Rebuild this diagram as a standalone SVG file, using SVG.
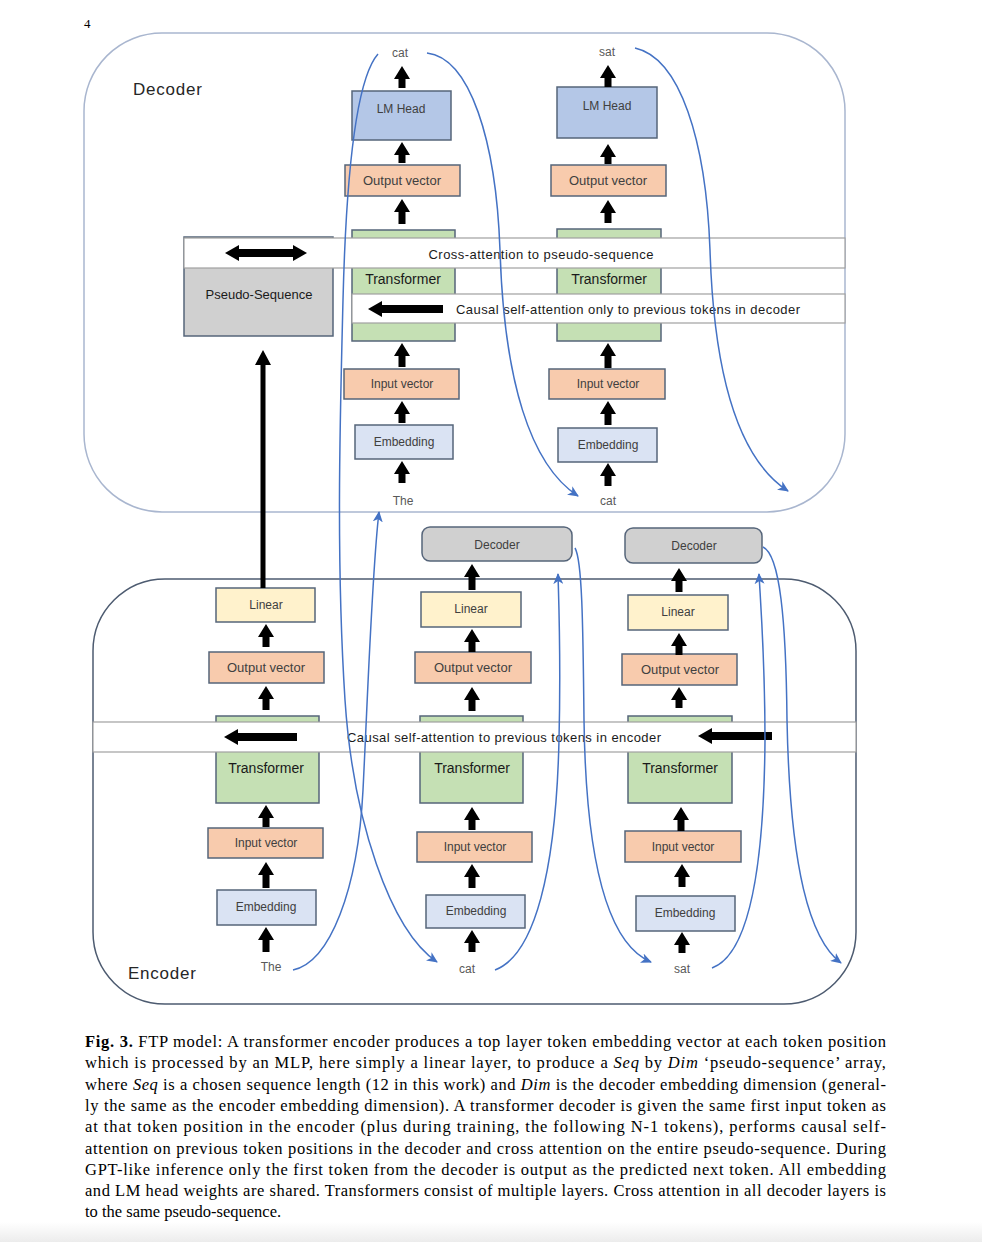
<svg xmlns="http://www.w3.org/2000/svg" width="982" height="1242" viewBox="0 0 982 1242">
<style>
.lbl{font-family:"Liberation Sans",Arial,sans-serif;font-size:12px;fill:#404040;text-anchor:middle}
.ov{font-size:13px}
.tr{font-family:"Liberation Sans",Arial,sans-serif;font-size:14px;fill:#1a1a1a;text-anchor:middle}
.tok{font-family:"Liberation Sans",Arial,sans-serif;font-size:12px;fill:#595959;text-anchor:middle}
.band{fill:#ffffff;stroke:#a0a0a0;stroke-width:1.2}
.bt{font-family:"Liberation Sans",Arial,sans-serif;font-size:13px;fill:#1a1a1a}
.big{font-family:"Liberation Sans",Arial,sans-serif;font-size:17px;fill:#262626}
.box{stroke:#56657a;stroke-width:1.5}
.lm{fill:#b4c7e7}.vec{fill:#f8cbad}.grn{fill:#c5e0b4}.emb{fill:#dae3f3}.lin{fill:#fff2cc}.gry{fill:#d0d0d0}
.ar{fill:#000000}
.cv{fill:none;stroke:#4472c4;stroke-width:1.5;marker-end:url(#ba)}
.cap{font-family:"Liberation Serif","Times New Roman",serif;font-size:16.5px;fill:#000000}
</style>
<defs>
<marker id="ba" markerWidth="12" markerHeight="10" refX="10" refY="5" orient="auto" markerUnits="userSpaceOnUse"><path d="M0,0 L11,5 L0,10 L3,5 z" fill="#4472c4"/></marker>
<linearGradient id="pg" x1="0" y1="0" x2="0" y2="1"><stop offset="0" stop-color="#ffffff"/><stop offset="1" stop-color="#ececec"/></linearGradient>
</defs>
<rect x="0" y="0" width="982" height="1242" fill="#ffffff"/>
<rect x="0" y="1222" width="982" height="20" fill="url(#pg)"/>
<text x="84" y="28" font-family="Liberation Serif,serif" font-size="13" fill="#000">4</text>

<g id="decoder-container">
<rect x="84" y="33" width="761" height="479" rx="78" fill="none" stroke="#a9b6cf" stroke-width="1.5"/>
<text class="big" x="133" y="95" textLength="69">Decoder</text>
</g>
<g id="encoder-container">
<rect x="93" y="579" width="763" height="425" rx="72" fill="none" stroke="#4d5b70" stroke-width="1.5"/>
<text class="big" x="128" y="979" textLength="68">Encoder</text>
</g>

<g id="pseudo-sequence">
<rect class="box gry" x="184" y="237" width="149" height="99"/>
<text class="bt" x="259" y="299" text-anchor="middle">Pseudo-Sequence</text>
</g>

<g id="dec-transformer-1"><rect class="box grn" x="352" y="230" width="103" height="111"/></g>
<g id="dec-transformer-2"><rect class="box grn" x="557" y="229" width="104" height="112"/></g>
<g id="enc-transformer-1"><rect class="box grn" x="216" y="716" width="103" height="87"/></g>
<g id="enc-transformer-2"><rect class="box grn" x="420" y="716" width="103" height="87"/></g>
<g id="enc-transformer-3"><rect class="box grn" x="628" y="716" width="104" height="87"/></g>

<g id="cross-attention-band">
<rect class="band" x="184" y="238" width="661" height="30"/>
<path class="ar" d="M225,253 l14,-8 v4 H293 v-4 l14,8 l-14,8 v-4 H239 v4 z"/>
<text class="bt" x="541" y="259" text-anchor="middle" textLength="225">Cross-attention to pseudo-sequence</text>
</g>
<g id="decoder-causal-band">
<rect class="band" x="352" y="294" width="493" height="29"/>
<path class="ar" d="M368,309 l14,-8 v4 H443 v8 H382 v4 z"/>
<text class="bt" x="456" y="314" textLength="344">Causal self-attention only to previous tokens in decoder</text>
</g>
<g id="encoder-causal-band">
<rect class="band" x="93" y="722" width="763" height="30"/>
<path class="ar" d="M224,737 l14,-8 v4 H297 v8 H238 v4 z"/>
<path class="ar" d="M698,736 l14,-8 v4 H772 v8 H712 v4 z"/>
<text class="bt" x="504" y="742" text-anchor="middle" textLength="314">Causal self-attention to previous tokens in encoder</text>
</g>

<g id="transformer-labels">
<text class="tr" x="403" y="284">Transformer</text>
<text class="tr" x="609" y="284">Transformer</text>
<text class="tr" x="266" y="773">Transformer</text>
<text class="tr" x="472" y="773">Transformer</text>
<text class="tr" x="680" y="773">Transformer</text>
</g>

<g id="dec-col-1">
<text class="tok" x="400" y="57">cat</text>
<rect class="box lm" x="352" y="91" width="99" height="49"/><text class="lbl" x="401" y="113">LM Head</text>
<rect class="box vec" x="345" y="165" width="115" height="31"/><text class="lbl ov" x="402" y="185">Output vector</text>
<rect class="box vec" x="344" y="369" width="115" height="30"/><text class="lbl" x="402" y="388">Input vector</text>
<rect class="box emb" x="355" y="425" width="98" height="34"/><text class="lbl" x="404" y="446">Embedding</text>
<text class="tok" x="403" y="505">The</text>
</g>
<g id="dec-col-2">
<text class="tok" x="607" y="56">sat</text>
<rect class="box lm" x="557" y="87" width="100" height="51"/><text class="lbl" x="607" y="110">LM Head</text>
<rect class="box vec" x="551" y="165" width="115" height="31"/><text class="lbl ov" x="608" y="185">Output vector</text>
<rect class="box vec" x="549" y="369" width="116" height="30"/><text class="lbl" x="608" y="388">Input vector</text>
<rect class="box emb" x="558" y="428" width="99" height="34"/><text class="lbl" x="608" y="449">Embedding</text>
<text class="tok" x="608" y="505">cat</text>
</g>
<g id="enc-col-1">
<rect class="box lin" x="216" y="588" width="99" height="34"/><text class="lbl" x="266" y="609">Linear</text>
<rect class="box vec" x="209" y="652" width="115" height="31"/><text class="lbl ov" x="266" y="672">Output vector</text>
<rect class="box vec" x="208" y="828" width="115" height="30"/><text class="lbl" x="266" y="847">Input vector</text>
<rect class="box emb" x="217" y="890" width="99" height="35"/><text class="lbl" x="266" y="911">Embedding</text>
<text class="tok" x="271" y="971">The</text>
</g>
<g id="enc-col-2">
<rect class="box gry" x="422" y="527" width="150" height="34" rx="8"/><text class="lbl" x="497" y="549">Decoder</text>
<rect class="box lin" x="421" y="592" width="100" height="35"/><text class="lbl" x="471" y="613">Linear</text>
<rect class="box vec" x="415" y="652" width="116" height="31"/><text class="lbl ov" x="473" y="672">Output vector</text>
<rect class="box vec" x="417" y="832" width="115" height="30"/><text class="lbl" x="475" y="851">Input vector</text>
<rect class="box emb" x="426" y="895" width="99" height="33"/><text class="lbl" x="476" y="915">Embedding</text>
<text class="tok" x="467" y="973">cat</text>
</g>
<g id="enc-col-3">
<rect class="box gry" x="625" y="528" width="137" height="35" rx="8"/><text class="lbl" x="694" y="550">Decoder</text>
<rect class="box lin" x="628" y="595" width="100" height="35"/><text class="lbl" x="678" y="616">Linear</text>
<rect class="box vec" x="622" y="654" width="115" height="31"/><text class="lbl ov" x="680" y="674">Output vector</text>
<rect class="box vec" x="625" y="831" width="116" height="31"/><text class="lbl" x="683" y="851">Input vector</text>
<rect class="box emb" x="636" y="896" width="99" height="35"/><text class="lbl" x="685" y="917">Embedding</text>
<text class="tok" x="682" y="973">sat</text>
</g>

<g id="connectors">
<path class="ar" d="M263,350 l8,15 h-5.5 V588 h-5 V365 h-5.5 z"/>
<path class="ar" d="M402,66 l8,13 h-4.5 V88 h-7 V79 h-4.5 z"/>
<path class="ar" d="M402,142 l8,13 h-4.5 V163 h-7 V155 h-4.5 z"/>
<path class="ar" d="M402,199 l8,13 h-4.5 V224 h-7 V212 h-4.5 z"/>
<path class="ar" d="M402,343 l8,13 h-4.5 V367 h-7 V356 h-4.5 z"/>
<path class="ar" d="M402,401 l8,13 h-4.5 V423 h-7 V414 h-4.5 z"/>
<path class="ar" d="M402,461 l8,13 h-4.5 V483 h-7 V474 h-4.5 z"/>
<path class="ar" d="M608,65 l8,13 h-4.5 V87 h-7 V78 h-4.5 z"/>
<path class="ar" d="M608,144 l8,13 h-4.5 V164 h-7 V157 h-4.5 z"/>
<path class="ar" d="M608,200 l8,13 h-4.5 V223 h-7 V213 h-4.5 z"/>
<path class="ar" d="M608,343 l8,13 h-4.5 V368 h-7 V356 h-4.5 z"/>
<path class="ar" d="M608,401 l8,13 h-4.5 V425 h-7 V414 h-4.5 z"/>
<path class="ar" d="M608,463 l8,13 h-4.5 V486 h-7 V476 h-4.5 z"/>
<path class="ar" d="M266,624 l8,13 h-4.5 V647 h-7 V637 h-4.5 z"/>
<path class="ar" d="M266,686 l8,13 h-4.5 V710 h-7 V699 h-4.5 z"/>
<path class="ar" d="M266,805 l8,13 h-4.5 V827 h-7 V818 h-4.5 z"/>
<path class="ar" d="M266,862 l8,13 h-4.5 V888 h-7 V875 h-4.5 z"/>
<path class="ar" d="M266,927 l8,13 h-4.5 V952 h-7 V940 h-4.5 z"/>
<path class="ar" d="M472,564 l8,13 h-4.5 V590 h-7 V577 h-4.5 z"/>
<path class="ar" d="M472,629 l8,13 h-4.5 V652 h-7 V642 h-4.5 z"/>
<path class="ar" d="M472,687 l8,13 h-4.5 V711 h-7 V700 h-4.5 z"/>
<path class="ar" d="M472,807 l8,13 h-4.5 V830 h-7 V820 h-4.5 z"/>
<path class="ar" d="M472,864 l8,13 h-4.5 V888 h-7 V877 h-4.5 z"/>
<path class="ar" d="M472,930 l8,13 h-4.5 V952 h-7 V943 h-4.5 z"/>
<path class="ar" d="M679,568 l8,13 h-4.5 V592 h-7 V581 h-4.5 z"/>
<path class="ar" d="M679,633 l8,13 h-4.5 V655 h-7 V646 h-4.5 z"/>
<path class="ar" d="M679,687 l8,13 h-4.5 V708 h-7 V700 h-4.5 z"/>
<path class="ar" d="M681,807 l8,13 h-4.5 V831 h-7 V820 h-4.5 z"/>
<path class="ar" d="M682,864 l8,13 h-4.5 V887 h-7 V877 h-4.5 z"/>
<path class="ar" d="M682,932 l8,13 h-4.5 V953 h-7 V945 h-4.5 z"/>

<path class="cv" d="M378,54 C355,80 346,180 343,300 C340,420 336,560 345,700 C353,820 390,930 437,962"/>
<path class="cv" d="M293,970 C330,962 358,890 363,790 C368,690 372,570 379,512"/>
<path class="cv" d="M427,53 C470,58 496,140 500,250 C504,380 530,465 578,496"/>
<path class="cv" d="M635,48 C680,58 706,140 710,250 C714,380 740,460 788,491"/>
<path class="cv" d="M495,970 C535,955 556,870 559,740 C561,660 559,610 558,574"/>
<path class="cv" d="M575,548 C582,560 583,620 584,720 C586,870 610,945 651,962"/>
<path class="cv" d="M712,968 C748,955 764,870 765,740 C765,660 761,610 759,574"/>
<path class="cv" d="M763,547 C780,555 786,620 787,720 C790,870 810,940 841,963"/>
</g>

<g id="caption">
<text class="cap" x="85" y="1047" textLength="801" lengthAdjust="spacing"><tspan font-weight="bold">Fig. 3.</tspan> FTP model: A transformer encoder produces a top layer token embedding vector at each token position</text>
<text class="cap" x="85" y="1068" textLength="801" lengthAdjust="spacing">which is processed by an MLP, here simply a linear layer, to produce a <tspan font-style="italic">Seq</tspan> by <tspan font-style="italic">Dim</tspan> ‘pseudo-sequence’ array,</text>
<text class="cap" x="85" y="1090" textLength="801" lengthAdjust="spacing">where <tspan font-style="italic">Seq</tspan> is a chosen sequence length (12 in this work) and <tspan font-style="italic">Dim</tspan> is the decoder embedding dimension (general-</text>
<text class="cap" x="85" y="1111" textLength="801" lengthAdjust="spacing">ly the same as the encoder embedding dimension). A transformer decoder is given the same first input token as</text>
<text class="cap" x="85" y="1132" textLength="801" lengthAdjust="spacing">at that token position in the encoder (plus during training, the following N-1 tokens), performs causal self-</text>
<text class="cap" x="85" y="1154" textLength="801" lengthAdjust="spacing">attention on previous token positions in the decoder and cross attention on the entire pseudo-sequence. During</text>
<text class="cap" x="85" y="1175" textLength="801" lengthAdjust="spacing">GPT-like inference only the first token from the decoder is output as the predicted next token. All embedding</text>
<text class="cap" x="85" y="1196" textLength="801" lengthAdjust="spacing">and LM head weights are shared. Transformers consist of multiple layers. Cross attention in all decoder layers is</text>
<text class="cap" x="85" y="1217">to the same pseudo-sequence.</text>
</g>
</svg>
